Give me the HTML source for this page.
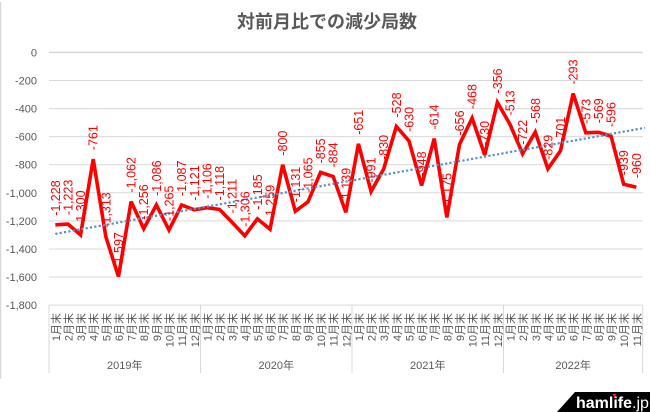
<!DOCTYPE html>
<html><head><meta charset="utf-8">
<style>
html,body{margin:0;padding:0;background:#fff;}
svg{display:block;}
text{font-family:"Liberation Sans","Noto Sans CJK JP",sans-serif;}
</style></head>
<body>
<svg width="650" height="412" viewBox="0 0 650 412" xmlns="http://www.w3.org/2000/svg">
<rect x="0" y="0" width="650" height="412" fill="#fff"/>
<line x1="0.5" y1="2" x2="0.5" y2="379" stroke="#d9d9d9" stroke-width="1.5"/>

<text x="327" y="28" text-anchor="middle" font-size="18" font-weight="bold" fill="#595959">対前月比での減少局数</text>

<g stroke="#d9d9d9" stroke-width="1">
<line x1="49" y1="52.4" x2="643" y2="52.4" stroke-width="1.6"/>
<line x1="49" y1="80.5" x2="643" y2="80.5"/>
<line x1="49" y1="108.6" x2="643" y2="108.6"/>
<line x1="49" y1="136.6" x2="643" y2="136.6"/>
<line x1="49" y1="164.7" x2="643" y2="164.7"/>
<line x1="49" y1="192.8" x2="643" y2="192.8"/>
<line x1="49" y1="220.9" x2="643" y2="220.9"/>
<line x1="49" y1="249.0" x2="643" y2="249.0"/>
<line x1="49" y1="277.0" x2="643" y2="277.0"/>
<line x1="49" y1="305.1" x2="643" y2="305.1"/>
<line x1="49" y1="305" x2="49" y2="373"/>
<line x1="200.5" y1="305" x2="200.5" y2="373"/>
<line x1="352" y1="305" x2="352" y2="373"/>
<line x1="503.5" y1="305" x2="503.5" y2="373"/>
<line x1="642.7" y1="305" x2="642.7" y2="373"/>
</g>

<g font-size="11" fill="#595959" text-anchor="end">
<text x="37" y="56.4">0</text>
<text x="37" y="84.5">-200</text>
<text x="37" y="112.6">-400</text>
<text x="37" y="140.6">-600</text>
<text x="37" y="168.7">-800</text>
<text x="37" y="196.8">-1,000</text>
<text x="37" y="224.9">-1,200</text>
<text x="37" y="253.0">-1,400</text>
<text x="37" y="281.0">-1,600</text>
<text x="37" y="309.1">-1,800</text>
</g>

<g font-size="11" fill="#595959" text-anchor="end">
<text transform="translate(59.8,313) rotate(-90)">1月末</text>
<text transform="translate(72.4,313) rotate(-90)">2月末</text>
<text transform="translate(85.1,313) rotate(-90)">3月末</text>
<text transform="translate(97.7,313) rotate(-90)">4月末</text>
<text transform="translate(110.3,313) rotate(-90)">5月末</text>
<text transform="translate(123.0,313) rotate(-90)">6月末</text>
<text transform="translate(135.6,313) rotate(-90)">7月末</text>
<text transform="translate(148.2,313) rotate(-90)">8月末</text>
<text transform="translate(160.9,313) rotate(-90)">9月末</text>
<text transform="translate(173.5,313) rotate(-90)">10月末</text>
<text transform="translate(186.1,313) rotate(-90)">11月末</text>
<text transform="translate(198.8,313) rotate(-90)">12月末</text>
<text transform="translate(211.4,313) rotate(-90)">1月末</text>
<text transform="translate(224.0,313) rotate(-90)">2月末</text>
<text transform="translate(236.6,313) rotate(-90)">3月末</text>
<text transform="translate(249.3,313) rotate(-90)">4月末</text>
<text transform="translate(261.9,313) rotate(-90)">5月末</text>
<text transform="translate(274.5,313) rotate(-90)">6月末</text>
<text transform="translate(287.2,313) rotate(-90)">7月末</text>
<text transform="translate(299.8,313) rotate(-90)">8月末</text>
<text transform="translate(312.4,313) rotate(-90)">9月末</text>
<text transform="translate(325.1,313) rotate(-90)">10月末</text>
<text transform="translate(337.7,313) rotate(-90)">11月末</text>
<text transform="translate(350.3,313) rotate(-90)">12月末</text>
<text transform="translate(362.9,313) rotate(-90)">1月末</text>
<text transform="translate(375.6,313) rotate(-90)">2月末</text>
<text transform="translate(388.2,313) rotate(-90)">3月末</text>
<text transform="translate(400.8,313) rotate(-90)">4月末</text>
<text transform="translate(413.5,313) rotate(-90)">5月末</text>
<text transform="translate(426.1,313) rotate(-90)">6月末</text>
<text transform="translate(438.7,313) rotate(-90)">7月末</text>
<text transform="translate(451.4,313) rotate(-90)">8月末</text>
<text transform="translate(464.0,313) rotate(-90)">9月末</text>
<text transform="translate(476.6,313) rotate(-90)">10月末</text>
<text transform="translate(489.2,313) rotate(-90)">11月末</text>
<text transform="translate(501.9,313) rotate(-90)">12月末</text>
<text transform="translate(514.5,313) rotate(-90)">1月末</text>
<text transform="translate(527.1,313) rotate(-90)">2月末</text>
<text transform="translate(539.8,313) rotate(-90)">3月末</text>
<text transform="translate(552.4,313) rotate(-90)">4月末</text>
<text transform="translate(565.0,313) rotate(-90)">5月末</text>
<text transform="translate(577.7,313) rotate(-90)">6月末</text>
<text transform="translate(590.3,313) rotate(-90)">7月末</text>
<text transform="translate(602.9,313) rotate(-90)">8月末</text>
<text transform="translate(615.5,313) rotate(-90)">9月末</text>
<text transform="translate(628.2,313) rotate(-90)">10月末</text>
<text transform="translate(640.8,313) rotate(-90)">11月末</text>
</g>

<g font-size="11" fill="#595959" text-anchor="middle">
<text x="124.8" y="369">2019年</text>
<text x="276.3" y="369">2020年</text>
<text x="427.8" y="369">2021年</text>
<text x="573.1" y="369">2022年</text>
</g>

<polyline fill="none" stroke="#ff0000" stroke-width="3.6" stroke-linejoin="miter" stroke-miterlimit="3" points="55.32,224.8 67.95,224.1 80.58,234.9 93.21,159.2 105.84,236.7 118.47,276.6 131.10,201.5 143.73,228.7 156.36,204.9 168.99,230.0 181.62,205.0 194.25,209.8 206.88,207.7 219.51,209.4 232.14,222.4 244.77,235.8 257.40,218.8 270.03,229.2 282.66,164.7 295.29,211.2 307.92,201.9 320.55,172.4 333.18,176.5 345.81,212.3 358.44,143.8 371.07,191.5 383.70,168.9 396.33,126.5 408.96,140.9 421.59,185.5 434.22,138.6 446.85,217.4 459.48,144.5 472.11,118.1 484.74,154.9 497.37,102.4 510.00,124.4 522.63,153.8 535.26,132.1 547.89,168.8 560.52,150.8 573.15,93.5 585.78,132.8 598.41,132.3 611.04,136.1 623.67,184.2 636.30,187.2"/>

<line x1="55.3" y1="233.9" x2="645" y2="127.8" stroke="#5b8fcb" stroke-width="2.2" stroke-dasharray="2.2 2.2"/>

<g font-size="12.5" fill="#ff0000">
<text transform="translate(59.8,215.8) rotate(-90)">-1,228</text>
<text transform="translate(72.4,215.1) rotate(-90)">-1,223</text>
<text transform="translate(85.1,225.9) rotate(-90)">-1,300</text>
<text transform="translate(97.7,150.2) rotate(-90)">-761</text>
<text transform="translate(110.3,227.7) rotate(-90)">-1,313</text>
<text transform="translate(123.0,267.6) rotate(-90)">-1,597</text>
<text transform="translate(135.6,192.5) rotate(-90)">-1,062</text>
<text transform="translate(148.2,219.7) rotate(-90)">-1,256</text>
<text transform="translate(160.9,195.9) rotate(-90)">-1,086</text>
<text transform="translate(173.5,221.0) rotate(-90)">-1,265</text>
<text transform="translate(186.1,196.0) rotate(-90)">-1,087</text>
<text transform="translate(198.8,200.8) rotate(-90)">-1,121</text>
<text transform="translate(211.4,198.7) rotate(-90)">-1,106</text>
<text transform="translate(224.0,200.4) rotate(-90)">-1,118</text>
<text transform="translate(236.6,213.4) rotate(-90)">-1,211</text>
<text transform="translate(249.3,226.8) rotate(-90)">-1,306</text>
<text transform="translate(261.9,209.8) rotate(-90)">-1,185</text>
<text transform="translate(274.5,220.2) rotate(-90)">-1,259</text>
<text transform="translate(287.2,155.7) rotate(-90)">-800</text>
<text transform="translate(299.8,202.2) rotate(-90)">-1,131</text>
<text transform="translate(312.4,192.9) rotate(-90)">-1,065</text>
<text transform="translate(325.1,163.4) rotate(-90)">-855</text>
<text transform="translate(337.7,167.5) rotate(-90)">-884</text>
<text transform="translate(350.3,203.3) rotate(-90)">-1,139</text>
<text transform="translate(362.9,134.8) rotate(-90)">-651</text>
<text transform="translate(375.6,182.5) rotate(-90)">-991</text>
<text transform="translate(388.2,159.9) rotate(-90)">-830</text>
<text transform="translate(400.8,117.5) rotate(-90)">-528</text>
<text transform="translate(413.5,131.9) rotate(-90)">-630</text>
<text transform="translate(426.1,176.5) rotate(-90)">-948</text>
<text transform="translate(438.7,129.6) rotate(-90)">-614</text>
<text transform="translate(451.4,208.4) rotate(-90)">-1,175</text>
<text transform="translate(464.0,135.5) rotate(-90)">-656</text>
<text transform="translate(476.6,109.1) rotate(-90)">-468</text>
<text transform="translate(489.2,145.9) rotate(-90)">-730</text>
<text transform="translate(501.9,93.4) rotate(-90)">-356</text>
<text transform="translate(514.5,115.4) rotate(-90)">-513</text>
<text transform="translate(527.1,144.8) rotate(-90)">-722</text>
<text transform="translate(539.8,123.1) rotate(-90)">-568</text>
<text transform="translate(552.4,159.8) rotate(-90)">-829</text>
<text transform="translate(565.0,141.8) rotate(-90)">-701</text>
<text transform="translate(577.7,84.5) rotate(-90)">-293</text>
<text transform="translate(590.3,123.8) rotate(-90)">-573</text>
<text transform="translate(602.9,123.3) rotate(-90)">-569</text>
<text transform="translate(615.5,127.1) rotate(-90)">-596</text>
<text transform="translate(628.2,175.2) rotate(-90)">-939</text>
<text transform="translate(640.8,178.2) rotate(-90)">-960</text>
</g>

<polygon points="557,412 575,392 650,392 650,412" fill="#000"/>
<text x="576" y="408" font-size="16" font-weight="bold" fill="#fff">hamlife<tspan font-weight="normal">.jp</tspan></text>
<polygon points="612.5,394 616.5,394 614.5,397.5" fill="#ff2020"/>
</svg>
</body></html>
